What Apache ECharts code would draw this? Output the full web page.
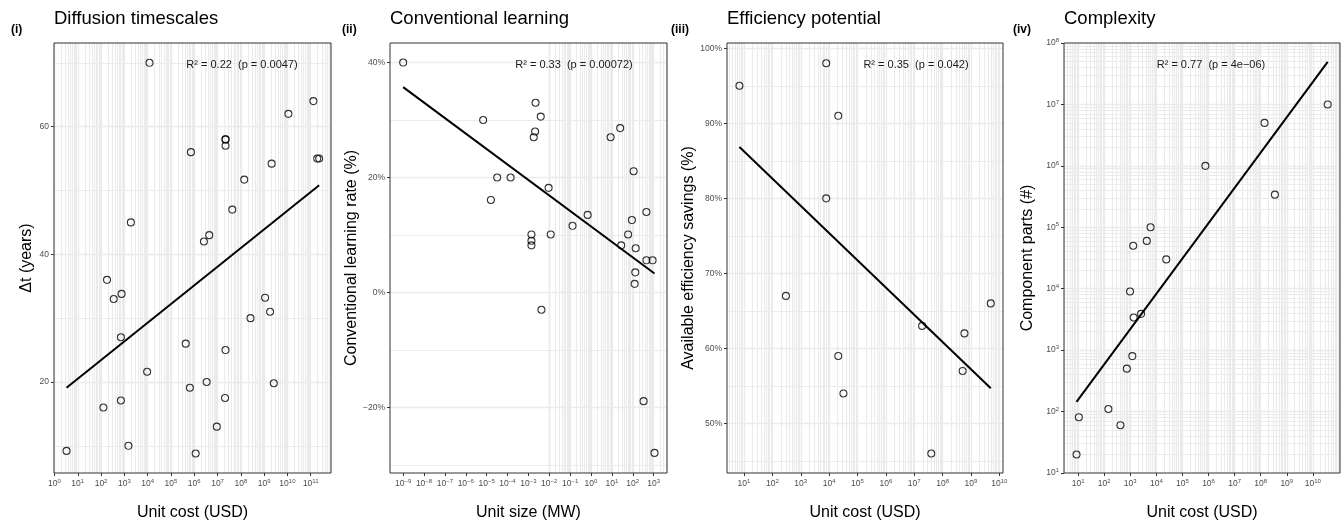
<!DOCTYPE html>
<html>
<head>
<meta charset="utf-8">
<title>Technology characteristics</title>
<script src="https://cdn.jsdelivr.net/npm/echarts@6/dist/echarts.min.js"></script>
<style>
  html, body { margin: 0; padding: 0; background: #fff; }
  #chart { width: 1341px; height: 526px; }
</style>
</head>
<body>
<div id="chart"></div>
<script>
// (i) Diffusion timescales
const diffusionCost = [1.2e4, 1.3e11, 1.1e10, 7.2e5, 2.2e7, 2.2e7, 2.2e7, 2.1e9, 1.9e11, 2.3e11, 1.4e8, 4.3e7, 1.9e3,
  2.6e6, 4.4e6, 180, 350, 760, 1.1e9, 1.8e9, 2.6e8, 710, 4.3e5, 2.2e7, 9.5e3, 3.4e6, 6.5e5, 2.6e9, 2.1e7, 710, 126,
  9.3e6, 1.5e3, 3.3, 1.15e6]
const diffusionYears = [70, 64, 62, 56, 58, 58, 57, 54.2, 55, 55, 51.7, 47, 45, 42, 43, 36, 33, 33.8, 33.2, 31, 30, 27,
  26, 25, 21.6, 20, 19.1, 19.8, 17.5, 17.1, 16, 13, 10, 9.2, 8.8]

// (ii) Conventional learning
const learningSize = [1e-9, 6.8e-6, 2.2e-3, 3.9e-3, 2.1e-3, 1.8e-3, 25, 8.7, 3.2e-5, 1.4e-4, 1.6e-5, 9.3e-3, 110, 450,
  0.69, 91, 0.13, 60, 0.0117, 1.4e-3, 1.4e-3, 1.4e-3, 28, 138, 450, 890, 132, 123, 4.2e-3, 330, 1100]
const learningRate = [40, 30, 33, 30.6, 28, 27, 28.6, 27, 20, 20, 16.1, 18.2, 21.1, 14, 13.5, 12.6, 11.6, 10.1, 10.1,
  10.1, 9, 8.2, 8.2, 7.7, 5.6, 5.6, 3.5, 1.5, -3, -18.9, -27.9]

// (iii) Efficiency potential
const efficiencyCost = [6.9, 7.9e3, 2.1e4, 7.9e3, 300, 2.1e4, 3.2e4, 1.9e7, 5.9e8, 5.1e8, 5.0e9, 4.0e7]
const efficiencySavings = [95, 98, 91, 80, 67, 59, 54, 63, 62, 57, 66, 46]

// (iv) Complexity
const complexityCost = [3.7e10, 1.4e8, 7.6e5, 3.5e8, 6.0e3, 4.3e3, 1.3e3, 2.4e4, 980, 1.35e3, 2.6e3, 1.2e3, 740, 145,
  10.7, 420, 8.7]
const complexityParts = [1e7, 5e6, 1e6, 3.4e5, 1e5, 6e4, 5e4, 3e4, 9e3, 3.4e3, 3.9e3, 800, 500, 110, 81, 60, 20]

const panelTags = ['(i)', '(ii)', '(iii)', '(iv)']
const panelTitles = ['Diffusion timescales', 'Conventional learning', 'Efficiency potential', 'Complexity']
const statLabels = ['R² = 0.22  (p = 0.0047)', 'R² = 0.33  (p = 0.00072)', 'R² = 0.35  (p = 0.042)', 'R² = 0.77  (p = 4e\u221206)']
const xNames = ['Unit cost (USD)', 'Unit size (MW)', 'Unit cost (USD)', 'Unit cost (USD)']
const yNames = ['\u0394t (years)', 'Conventional learning rate (%)', 'Available efficiency savings (%)', 'Component parts (#)']

const xTickExps = [
  [0, 1, 2, 3, 4, 5, 6, 7, 8, 9, 10, 11],
  [-9, -8, -7, -6, -5, -4, -3, -2, -1, 0, 1, 2, 3],
  [1, 2, 3, 4, 5, 6, 7, 8, 9, 10],
  [1, 2, 3, 4, 5, 6, 7, 8, 9, 10]
]
const yTicks = [[20, 40, 60], [-20, 0, 20, 40], [50, 60, 70, 80, 90, 100]]
const yMinorTicks = [[10, 30, 50, 70], [-30, -10, 10, 30], [45, 55, 65, 75, 85, 95]]
const yTickExps4 = [1, 2, 3, 4, 5, 6, 7, 8]

const FONT = 'Liberation Sans, Arial, Helvetica, sans-serif'
const GRID_COLOR = '#ebebeb'

const grids = [
  { left: 54, top: 43, width: 277, height: 432 },
  { left: 390, top: 43, width: 277, height: 432 },
  { left: 727, top: 43, width: 276, height: 432 },
  { left: 1064, top: 43, width: 276, height: 432 }
]
// axis limits (log10 exponents for log axes)
const xLim = [[-0.02, 11.87], [-9.63, 3.64], [0.4, 10.13], [0.46, 11.04]]
const yLim = [[5.74, 73.1], [-31.4, 43.4], [43.4, 100.7], [1, 8]]

function supText(e) {
  return e < 0 ? '\u2212' + (-e) : String(e)
}
function powLabel(v) {
  const e = Math.round(Math.log10(v))
  return '{b|10}{s|' + supText(e) + '}'
}
const powRich = {
  b: { fontSize: 8.5, color: '#4d4d4d', fontFamily: FONT },
  s: { fontSize: 6, color: '#4d4d4d', fontFamily: FONT, padding: [0, 0, 5, 0] }
}

// ordinary least squares on log10(x) (and log10(y) for panel iv)
function fitLine(xs, ys, logY) {
  const lx = xs.map(Math.log10)
  const ly = logY ? ys.map(Math.log10) : ys
  const n = lx.length
  const mx = lx.reduce((a, b) => a + b, 0) / n
  const my = ly.reduce((a, b) => a + b, 0) / n
  let sxy = 0
  let sxx = 0
  for (let i = 0; i < n; i++) {
    sxy += (lx[i] - mx) * (ly[i] - my)
    sxx += (lx[i] - mx) * (lx[i] - mx)
  }
  const slope = sxy / sxx
  const icpt = my - slope * mx
  const at = x => {
    const v = icpt + slope * Math.log10(x)
    return logY ? Math.pow(10, v) : v
  }
  const x0 = Math.min(...xs)
  const x1 = Math.max(...xs)
  return [[x0, at(x0)], [x1, at(x1)]]
}

const majorStyle = { color: GRID_COLOR, width: 1.3, type: 'solid' }
const minorStyle = { color: GRID_COLOR, width: 1.1, type: 'solid' }

function logGridLines(lim, key) {
  const out = []
  for (let e = Math.floor(lim[0]); e <= Math.ceil(lim[1]); e++) {
    for (let k = 1; k <= 9; k++) {
      const v = k * Math.pow(10, e)
      const lv = Math.log10(v)
      if (lv > lim[0] + 0.01 && lv < lim[1] - 0.01) {
        out.push({ [key]: v, lineStyle: k === 1 ? majorStyle : minorStyle })
      }
    }
  }
  return out
}

const xData = [diffusionCost, learningSize, efficiencyCost, complexityCost]
const yData = [diffusionYears, learningRate, efficiencySavings, complexityParts]

const xAxes = []
const yAxes = []
const series = []

for (let i = 0; i < 4; i++) {
  const xTicks = xTickExps[i].map(e => Math.pow(10, e))
  xAxes.push({
    gridIndex: i,
    type: 'log',
    logBase: 10,
    min: Math.pow(10, xLim[i][0]),
    max: Math.pow(10, xLim[i][1]),
    name: xNames[i],
    nameLocation: 'middle',
    nameGap: 32,
    nameTextStyle: { fontSize: 16, color: '#000', fontFamily: FONT },
    axisLine: { show: false, onZero: false },
    splitLine: { show: false },
    axisTick: { show: true, length: 3, lineStyle: { color: '#333' }, customValues: xTicks },
    axisLabel: { customValues: xTicks, formatter: powLabel, rich: powRich, margin: 5 }
  })

  const yAxis = {
    gridIndex: i,
    name: yNames[i],
    nameLocation: 'middle',
    nameTextStyle: { fontSize: 16, color: '#000', fontFamily: FONT },
    axisLine: { show: false, onZero: false },
    splitLine: { show: false },
    axisTick: { show: true, length: 3, lineStyle: { color: '#333' } },
    axisLabel: { margin: 5, color: '#4d4d4d', fontSize: 8.5, fontFamily: FONT }
  }
  let gridLines = logGridLines(xLim[i], 'xAxis')
  if (i < 3) {
    yAxis.type = 'value'
    yAxis.min = yLim[i][0]
    yAxis.max = yLim[i][1]
    yAxis.axisTick.customValues = yTicks[i]
    yAxis.axisLabel.customValues = yTicks[i]
    yAxis.axisLabel.formatter = i === 0 ? v => String(v) : v => (v < 0 ? '\u2212' + (-v) : v) + '%'
    yAxis.nameGap = i === 0 ? 19 : 27
    gridLines = gridLines
      .concat(yTicks[i].map(v => ({ yAxis: v, lineStyle: majorStyle })))
      .concat(yMinorTicks[i].map(v => ({ yAxis: v, lineStyle: minorStyle })))
  } else {
    const yt = yTickExps4.map(e => Math.pow(10, e))
    yAxis.type = 'log'
    yAxis.logBase = 10
    yAxis.min = Math.pow(10, yLim[i][0])
    yAxis.max = Math.pow(10, yLim[i][1])
    yAxis.axisTick.customValues = yt
    yAxis.axisLabel.customValues = yt
    yAxis.axisLabel.formatter = powLabel
    yAxis.axisLabel.rich = powRich
    yAxis.nameGap = 28
    gridLines = gridLines.concat(logGridLines(yLim[i], 'yAxis'))
  }
  yAxes.push(yAxis)

  // background grid lines
  series.push({
    type: 'line',
    xAxisIndex: i,
    yAxisIndex: i,
    data: [],
    z: 1,
    silent: true,
    markLine: {
      z: 1,
      silent: true,
      symbol: 'none',
      animation: false,
      label: { show: false },
      emphasis: { disabled: true },
      data: gridLines
    }
  })

  series.push({
    type: 'scatter',
    xAxisIndex: i,
    yAxisIndex: i,
    z: 4,
    symbol: 'circle',
    symbolSize: 7,
    itemStyle: { color: 'rgba(0,0,0,0)', borderColor: '#000', borderWidth: 1.1 },
    data: xData[i].map((x, j) => [x, yData[i][j]])
  })

  series.push({
    type: 'line',
    xAxisIndex: i,
    yAxisIndex: i,
    z: 3,
    showSymbol: false,
    lineStyle: { color: '#000', width: 2 },
    data: fitLine(xData[i], yData[i], i === 3)
  })
}

const tagX = [11, 342, 671, 1013]
const statX = [242, 574, 916, 1211]
const graphic = []
for (let i = 0; i < 4; i++) {
  graphic.push({
    type: 'text', x: tagX[i], y: 29.5,
    style: { text: panelTags[i], fontSize: 12, fontWeight: 'bold', fontFamily: FONT, fill: '#000', verticalAlign: 'middle' }
  })
  graphic.push({
    type: 'text', x: grids[i].left, y: 18.5,
    style: { text: panelTitles[i], fontSize: 18.5, fontFamily: FONT, fill: '#000', verticalAlign: 'middle' }
  })
  graphic.push({
    type: 'text', x: statX[i], y: 64.5, z: 10,
    style: { text: statLabels[i], fontSize: 11, fontFamily: FONT, fill: '#1a1a1a', align: 'center', verticalAlign: 'middle' }
  })
}

const chart = echarts.init(document.getElementById('chart'))
chart.setOption({
  animation: false,
  backgroundColor: '#fff',
  grid: grids.map(g => Object.assign({
    show: true, z: 10, backgroundColor: 'transparent', borderColor: '#333', borderWidth: 1
  }, g)),
  xAxis: xAxes,
  yAxis: yAxes,
  series: series,
  graphic: graphic
})
</script>
</body>
</html>
